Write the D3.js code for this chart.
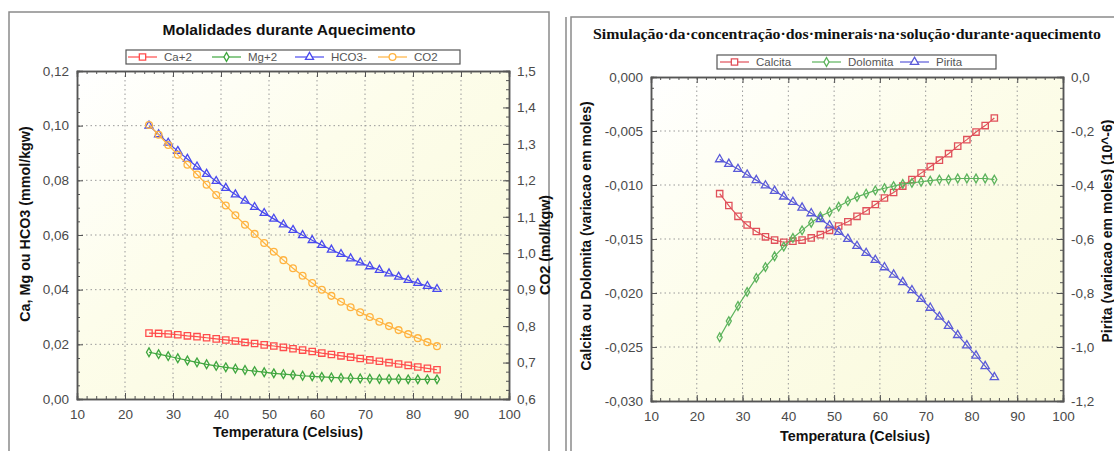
<!DOCTYPE html>
<html>
<head>
<meta charset="utf-8">
<script src="https://cdn.jsdelivr.net/npm/d3@7"></script>
<style>
  body { margin: 0; background: #fff; }
  svg { display: block; }
  text { font-family: "Liberation Sans", Arial, sans-serif; }
</style>
</head>
<body>
<script>
// temperature steps (Celsius)
var temps = [25,27,29,31,33,35,37,39,41,43,45,47,49,51,53,55,57,59,61,63,65,67,69,71,73,75,77,79,81,83,85];

// left chart: molalidades
var ca2 = [0.0241,0.0240,0.0238,0.0235,0.0231,0.0228,0.0224,0.0220,0.0216,0.0212,0.0207,0.0203,0.0198,0.0194,0.0189,0.0184,0.0179,0.0174,0.0168,0.0163,0.0158,0.0153,0.0148,0.0143,0.0138,0.0133,0.0128,0.0123,0.0117,0.0112,0.0107];
var mg2 = [0.0171,0.0164,0.0157,0.0149,0.0141,0.0134,0.0127,0.0121,0.0116,0.0111,0.0106,0.0102,0.0098,0.0094,0.0091,0.0088,0.0085,0.0083,0.0081,0.0079,0.0077,0.0076,0.0075,0.0074,0.0073,0.0073,0.0073,0.0072,0.0072,0.0072,0.0072];
var hco3 = [0.1000,0.0968,0.0937,0.0907,0.0878,0.0850,0.0823,0.0797,0.0772,0.0748,0.0725,0.0702,0.0680,0.0659,0.0638,0.0618,0.0599,0.0581,0.0563,0.0546,0.0530,0.0514,0.0499,0.0485,0.0472,0.0459,0.0447,0.0435,0.0424,0.0413,0.0402];
var co2 = [1.352,1.325,1.297,1.270,1.243,1.216,1.188,1.160,1.131,1.104,1.078,1.053,1.028,1.004,0.981,0.959,0.938,0.918,0.900,0.883,0.867,0.852,0.838,0.825,0.812,0.800,0.789,0.778,0.767,0.756,0.745];

// right chart: minerais
var calcita = [-0.0108,-0.0119,-0.0129,-0.0137,-0.0143,-0.0148,-0.0151,-0.0153,-0.0152,-0.0151,-0.0149,-0.0146,-0.0142,-0.0138,-0.0134,-0.0129,-0.0124,-0.0118,-0.0112,-0.0107,-0.0101,-0.0095,-0.0089,-0.0083,-0.0077,-0.0071,-0.0064,-0.0058,-0.0051,-0.0045,-0.0038];
var dolomita = [-0.0241,-0.0226,-0.0212,-0.0199,-0.0186,-0.0176,-0.0166,-0.0157,-0.0149,-0.0142,-0.0135,-0.0129,-0.0125,-0.0120,-0.0115,-0.0111,-0.0108,-0.0105,-0.0103,-0.0101,-0.0099,-0.0098,-0.0097,-0.0096,-0.0095,-0.0095,-0.0094,-0.0094,-0.0094,-0.0094,-0.0095];
var pirita = [-0.305,-0.322,-0.341,-0.362,-0.382,-0.402,-0.422,-0.443,-0.463,-0.484,-0.505,-0.527,-0.550,-0.574,-0.600,-0.626,-0.652,-0.678,-0.705,-0.732,-0.760,-0.790,-0.822,-0.855,-0.888,-0.922,-0.956,-0.994,-1.032,-1.071,-1.112];

// tick values
var xTicks = [10,20,30,40,50,60,70,80,90,100];
var yTicksMol = [0,0.02,0.04,0.06,0.08,0.10,0.12];
var yTicksCO2 = [0.6,0.7,0.8,0.9,1.0,1.1,1.2,1.3,1.4,1.5];
var yTicksMin = [0,-0.005,-0.010,-0.015,-0.020,-0.025,-0.030];
var yTicksPir = [0,-0.2,-0.4,-0.6,-0.8,-1.0,-1.2];

var svg = d3.select("body").append("svg")
    .attr("width", 1114)
    .attr("height", 451);

var defs = svg.append("defs");
var grad = defs.append("linearGradient").attr("id", "bg")
    .attr("x1", "0%").attr("y1", "0%").attr("x2", "100%").attr("y2", "100%");
grad.append("stop").attr("offset", "0%").attr("stop-color", "#ffffff");
grad.append("stop").attr("offset", "40%").attr("stop-color", "#fdfdeb");
grad.append("stop").attr("offset", "100%").attr("stop-color", "#f9f9da");

// panel frames
svg.append("rect").attr("x", 9).attr("y", 12).attr("width", 540).attr("height", 450)
    .attr("fill", "none").attr("stroke", "#8a8a8a").attr("stroke-width", 1.5);
svg.append("line").attr("x1", 566).attr("x2", 566).attr("y1", 17).attr("y2", 451)
    .attr("stroke", "#8a8a8a").attr("stroke-width", 1.5);
svg.append("rect").attr("x", 571).attr("y", 17).attr("width", 560).attr("height", 450)
    .attr("fill", "none").attr("stroke", "#8a8a8a").attr("stroke-width", 1.5);

var comma = function (digits) {
    return function (v) { return d3.format("." + digits + "f")(v).replace(".", ",").replace("−", "-"); };
};

function drawPanel(p) {
    var g = svg.append("g");
    var x = d3.scaleLinear().domain([10, 100]).range([p.left, p.right]);
    var yL = d3.scaleLinear().domain(p.yLdom).range([p.bottom, p.top]);
    var yR = d3.scaleLinear().domain(p.yRdom).range([p.bottom, p.top]);

    g.append("rect").attr("x", p.left).attr("y", p.top)
        .attr("width", p.right - p.left).attr("height", p.bottom - p.top)
        .attr("fill", "url(#bg)");

    // dotted grid
    g.selectAll("line.gx").data(xTicks.slice(1, -1)).enter().append("line")
        .attr("x1", function (d) { return x(d); }).attr("x2", function (d) { return x(d); })
        .attr("y1", p.top).attr("y2", p.bottom)
        .attr("stroke", "#9a9a9a").attr("stroke-dasharray", "1.5,3");
    g.selectAll("line.gy").data(p.yLticks.slice(1, -1)).enter().append("line")
        .attr("y1", function (d) { return yL(d); }).attr("y2", function (d) { return yL(d); })
        .attr("x1", p.left).attr("x2", p.right)
        .attr("stroke", "#9a9a9a").attr("stroke-dasharray", "1.5,3");

    // axes with inward ticks, minor ticks
    var xMinor = d3.range(10, 100.01, 2);
    var lStep = (p.yLticks[1] - p.yLticks[0]) / p.yLminor;
    var yLminorT = d3.range(0, (p.yLticks.length - 1) * p.yLminor + 1).map(function (k) { return p.yLticks[0] + k * lStep; });
    var rStep = (p.yRticks[1] - p.yRticks[0]) / p.yRminor;
    var yRminorT = d3.range(0, (p.yRticks.length - 1) * p.yRminor + 1).map(function (k) { return p.yRticks[0] + k * rStep; });

    g.append("g").attr("transform", "translate(0," + p.bottom + ")")
        .call(d3.axisBottom(x).tickValues(xMinor).tickSize(-3).tickFormat(""));
    g.append("g").attr("transform", "translate(0," + p.bottom + ")")
        .call(d3.axisBottom(x).tickValues(xTicks).tickSize(-6).tickPadding(10).tickFormat(d3.format("d")));
    g.append("g").attr("transform", "translate(0," + p.top + ")")
        .call(d3.axisTop(x).tickValues(xMinor).tickSize(-3).tickFormat(""));
    g.append("g").attr("transform", "translate(0," + p.top + ")")
        .call(d3.axisTop(x).tickValues(xTicks).tickSize(-6).tickFormat(""));
    g.append("g").attr("transform", "translate(" + p.left + ",0)")
        .call(d3.axisLeft(yL).tickValues(yLminorT).tickSize(-3).tickFormat(""));
    g.append("g").attr("transform", "translate(" + p.left + ",0)")
        .call(d3.axisLeft(yL).tickValues(p.yLticks).tickSize(-6).tickPadding(8).tickFormat(p.fmtL));
    g.append("g").attr("transform", "translate(" + p.right + ",0)")
        .call(d3.axisRight(yR).tickValues(yRminorT).tickSize(-3).tickFormat(""));
    g.append("g").attr("transform", "translate(" + p.right + ",0)")
        .call(d3.axisRight(yR).tickValues(p.yRticks).tickSize(-6).tickPadding(8).tickFormat(p.fmtR));

    g.selectAll(".domain").attr("stroke", "#555").attr("stroke-width", 1.5);
    g.selectAll(".tick line").attr("stroke", "#555");
    g.selectAll(".tick text").attr("fill", "#4a4a4a").style("font-size", "13.5px")
        .style("font-family", "'Liberation Sans', Arial, sans-serif");

    // series
    p.series.forEach(function (s) {
        var ys = s.axis === "R" ? yR : yL;
        var line = d3.line().x(function (d, i) { return x(temps[i]); }).y(function (d) { return ys(d); });
        g.append("path").datum(s.values).attr("d", line)
            .attr("fill", "none").attr("stroke", s.color).attr("stroke-width", 1.2);
        g.selectAll(null).data(s.values).enter().append("path")
            .attr("d", d3.symbol().type(s.symbol).size(s.size))
            .attr("transform", function (d, i) { return "translate(" + x(temps[i]) + "," + ys(d) + ")"; })
            .attr("fill", "none").attr("stroke", s.color).attr("stroke-width", 1.3);
    });

    // legend
    var lg = svg.append("g");
    lg.append("rect").attr("x", p.legend.x).attr("y", p.legend.y)
        .attr("width", p.legend.w).attr("height", 14)
        .attr("fill", "#fff").attr("stroke", "#555").attr("stroke-width", 1.2);
    p.series.forEach(function (s, i) {
        var lx = p.legend.items[i];
        var cy = p.legend.y + 7;
        lg.append("line").attr("x1", lx).attr("x2", lx + 29).attr("y1", cy).attr("y2", cy)
            .attr("stroke", s.color).attr("stroke-width", 1.2);
        lg.append("path").attr("d", d3.symbol().type(s.symbol).size(s.size))
            .attr("transform", "translate(" + (lx + 14.5) + "," + cy + ")")
            .attr("fill", "#fff").attr("stroke", s.color).attr("stroke-width", 1.3);
        lg.append("text").attr("x", lx + 36).attr("y", cy + 4)
            .style("font-size", "11.5px").attr("fill", "#555").text(s.name);
    });

    // titles
    svg.append("text").attr("x", p.title.x).attr("y", p.title.y).attr("text-anchor", "middle")
        .style("font-size", p.title.size).style("font-weight", "bold")
        .style("font-family", p.title.font).attr("fill", "#111")
        .attr("textLength", p.title.len).attr("lengthAdjust", "spacingAndGlyphs")
        .text(p.title.text);
    svg.append("text").attr("x", p.xlab.x).attr("y", p.xlab.y).attr("text-anchor", "middle")
        .style("font-size", "14.3px").style("font-weight", "bold").attr("fill", "#111")
        .text("Temperatura (Celsius)");
    svg.append("text").attr("transform", "translate(" + p.ylL.x + "," + p.ylL.y + ") rotate(-90)")
        .attr("text-anchor", "middle").style("font-size", p.ylL.size).style("font-weight", "bold")
        .attr("fill", "#111").text(p.ylL.text);
    svg.append("text").attr("transform", "translate(" + p.ylR.x + "," + p.ylR.y + ") rotate(-90)")
        .attr("text-anchor", "middle").style("font-size", p.ylR.size).style("font-weight", "bold")
        .attr("fill", "#111").text(p.ylR.text);
}

drawPanel({
    left: 77, right: 509, top: 71, bottom: 399,
    yLdom: [0, 0.12], yRdom: [0.6, 1.5],
    yLticks: yTicksMol, yRticks: yTicksCO2, yLminor: 4, yRminor: 4,
    fmtL: comma(2), fmtR: comma(1),
    series: [
        { name: "Ca+2", values: ca2, color: "#ff4c4c", symbol: d3.symbolSquare, size: 40, axis: "L" },
        { name: "Mg+2", values: mg2, color: "#3fa63f", symbol: d3.symbolDiamond, size: 22, axis: "L" },
        { name: "HCO3-", values: hco3, color: "#4a4aee", symbol: d3.symbolTriangle, size: 28, axis: "L" },
        { name: "CO2", values: co2, color: "#ffb340", symbol: d3.symbolCircle, size: 36, axis: "R" }
    ],
    legend: { x: 126, y: 50, w: 334, items: [128, 212, 295, 378] },
    title: { x: 289, y: 35, text: "Molalidades durante Aquecimento", size: "15px", font: "'Liberation Sans', Arial, sans-serif", len: 253 },
    xlab: { x: 288, y: 437 },
    ylL: { x: 30, y: 224, size: "14.3px", text: "Ca, Mg ou HCO3 (mmol/kgw)" },
    ylR: { x: 550, y: 245, size: "14.3px", text: "CO2 (mol/kgw)" }
});

drawPanel({
    left: 651, right: 1063, top: 77, bottom: 401,
    yLdom: [-0.030, 0], yRdom: [-1.2, 0],
    yLticks: yTicksMin, yRticks: yTicksPir, yLminor: 5, yRminor: 5,
    fmtL: comma(3), fmtR: comma(1),
    series: [
        { name: "Calcita", values: calcita, color: "#e0505a", symbol: d3.symbolSquare, size: 40, axis: "L" },
        { name: "Dolomita", values: dolomita, color: "#5cb35c", symbol: d3.symbolDiamond, size: 22, axis: "L" },
        { name: "Pirita", values: pirita, color: "#5a5ad8", symbol: d3.symbolTriangle, size: 30, axis: "R" }
    ],
    legend: { x: 717, y: 55, w: 279, items: [720, 812, 900] },
    title: { x: 847, y: 39, text: "Simulação·da·concentração·dos·minerais·na·solução·durante·aquecimento", size: "15px", font: "'Liberation Serif', 'Times New Roman', serif", len: 508 },
    xlab: { x: 855, y: 441 },
    ylL: { x: 591, y: 236, size: "14px", text: "Calcita ou Dolomita (variacao em moles)" },
    ylR: { x: 1112, y: 231, size: "14px", text: "Pirita (variacao em moles) (10^-6)" }
});
</script>
</body>
</html>
